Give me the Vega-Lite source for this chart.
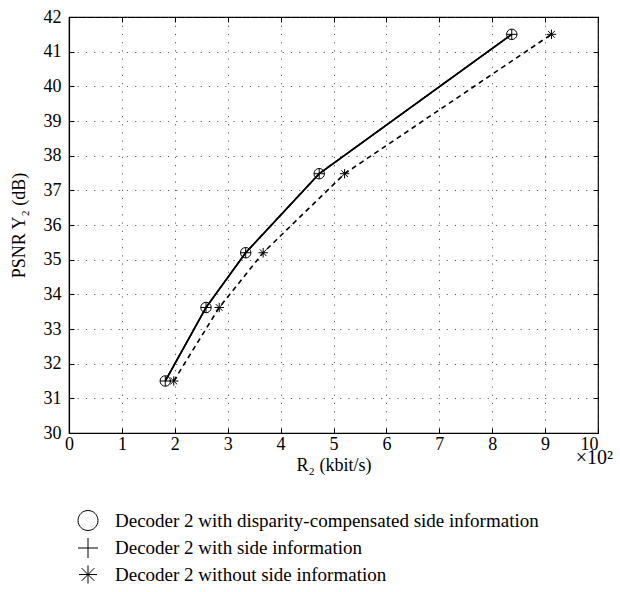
{
  "$schema": "https://vega.github.io/schema/vega-lite/v6.json",
  "width": 529,
  "height": 416,
  "autosize": {"type": "none"},
  "padding": {"left": 69, "top": 17, "right": 22, "bottom": 159},
  "background": "white",
  "config": {
    "font": "Liberation Serif, Times New Roman, serif",
    "view": {"stroke": "black", "strokeWidth": 1.2},
    "axis": {
      "domainColor": "black",
      "domainWidth": 1.2,
      "tickColor": "black",
      "tickSize": -5,
      "labelColor": "black",
      "labelFontSize": 18,
      "labelFont": "Liberation Serif, Times New Roman, serif",
      "titleColor": "black",
      "titleFont": "Liberation Serif, Times New Roman, serif",
      "titleFontSize": 18,
      "titleFontWeight": "normal",
      "gridColor": "#333",
      "gridDash": [1.2, 7],
      "gridWidth": 0.8,
      "gridOpacity": 1
    },
    "legend": {
      "labelFont": "Liberation Serif, Times New Roman, serif",
      "labelFontSize": 19,
      "labelColor": "black",
      "labelLimit": 1000
    }
  },
  "data": {
    "values": [
      {"series": "Decoder 2 with disparity-compensated side information", "r": 1.82, "psnr": 31.5},
      {"series": "Decoder 2 with disparity-compensated side information", "r": 2.59, "psnr": 33.62},
      {"series": "Decoder 2 with disparity-compensated side information", "r": 3.34, "psnr": 35.2},
      {"series": "Decoder 2 with disparity-compensated side information", "r": 4.73, "psnr": 37.48},
      {"series": "Decoder 2 with disparity-compensated side information", "r": 8.37, "psnr": 41.5},
      {"series": "Decoder 2 with side information", "r": 1.82, "psnr": 31.5},
      {"series": "Decoder 2 with side information", "r": 2.59, "psnr": 33.62},
      {"series": "Decoder 2 with side information", "r": 3.34, "psnr": 35.2},
      {"series": "Decoder 2 with side information", "r": 4.73, "psnr": 37.48},
      {"series": "Decoder 2 with side information", "r": 8.37, "psnr": 41.5},
      {"series": "Decoder 2 without side information", "r": 1.98, "psnr": 31.5},
      {"series": "Decoder 2 without side information", "r": 2.84, "psnr": 33.62},
      {"series": "Decoder 2 without side information", "r": 3.67, "psnr": 35.2},
      {"series": "Decoder 2 without side information", "r": 5.21, "psnr": 37.48},
      {"series": "Decoder 2 without side information", "r": 9.12, "psnr": 41.5}
    ]
  },
  "resolve": {"axis": {"x": "independent", "y": "independent"}},
  "layer": [
    {
      "mark": {"type": "line", "color": "black"},
      "encoding": {
        "x": {
          "field": "r", "type": "quantitative",
          "scale": {"domain": [0, 10], "nice": false, "zero": false},
          "axis": {
            "values": [0,1,2,3,4,5,6,7,8,9,10], "grid": true, "title": "R₂ (kbit/s)",
            "labelPadding": 7, "titlePadding": 3, "labelFlush": false,
            "labelAlign": {"condition": {"test": "datum.value === 10", "value": "right"}, "value": "center"}
          }
        },
        "y": {
          "field": "psnr", "type": "quantitative",
          "scale": {"domain": [30, 42], "nice": false, "zero": false},
          "axis": {"values": [30,31,32,33,34,35,36,37,38,39,40,41,42], "grid": true, "title": "PSNR Y₂ (dB)", "labelPadding": 13, "titlePadding": 15, "labelFlush": false}
        },
        "detail": {"field": "series"},
        "strokeDash": {
          "field": "series", "type": "nominal",
          "scale": {"range": [[1, 0], [1, 0], [5, 4]]},
          "legend": null
        },
        "strokeWidth": {
          "field": "series", "type": "nominal",
          "scale": {"range": [1.6, 1.6, 1]},
          "legend": null
        }
      }
    },
    {
      "mark": {"type": "point", "filled": false, "color": "black", "size": 110, "strokeWidth": 1, "opacity": 1},
      "encoding": {
        "x": {
          "field": "r", "type": "quantitative",
          "axis": {"orient": "top", "values": [0,1,2,3,4,5,6,7,8,9,10], "labels": false, "grid": false, "domain": false, "title": null}
        },
        "y": {
          "field": "psnr", "type": "quantitative",
          "axis": {"orient": "right", "values": [30,31,32,33,34,35,36,37,38,39,40,41,42], "labels": false, "grid": false, "domain": false, "title": null}
        },
        "shape": {
          "field": "series", "type": "nominal",
          "scale": {
            "domain": ["Decoder 2 with disparity-compensated side information", "Decoder 2 with side information", "Decoder 2 without side information"],
            "range": ["M-1,0A1,1 0 1,1 1,0A1,1 0 1,1 -1,0", "M-1,0H1M0,-1V1", "M0,-0.9V0.9M-0.9,0H0.9M-0.64,-0.64L0.64,0.64M-0.64,0.64L0.64,-0.64"]
          },
          "legend": {
            "title": null,
            "orient": "none",
            "legendX": 0,
            "legendY": 493,
            "direction": "vertical",
            "padding": 0,
            "symbolSize": 400,
            "symbolStrokeWidth": 1,
            "symbolStrokeColor": "black",
            "symbolOffset": 8.5,
            "labelOffset": 16.5,
            "rowPadding": 2.5,
            "encode": {
              "symbols": {
                "shape": {"value": {"expr": "datum.value === 'Decoder 2 with disparity-compensated side information' ? 'M-1.9,0H-0.45M0.45,0H1.9M-0.45,0A0.45,0.45 0 1,1 0.45,0A0.45,0.45 0 1,1 -0.45,0' : datum.value === 'Decoder 2 with side information' ? 'M-1.9,0H1.9M0,-0.45V0.45' : 'M-1.9,0H-1.25M1.25,0H1.9M0,-0.42V0.42M-0.42,0H0.42M-0.3,-0.3L0.3,0.3M-0.3,0.3L0.3,-0.3'"}}
              }
            }
          }
        }
      }
    },
    {
      "data": {"values": [{"r": 10, "psnr": 30, "label": "×10²"}]},
      "mark": {"type": "text", "dy": 25, "dx": 15, "align": "right", "baseline": "middle", "fontSize": 20, "color": "black"},
      "encoding": {
        "x": {"field": "r", "type": "quantitative", "axis": null},
        "y": {"field": "psnr", "type": "quantitative", "axis": null},
        "text": {"field": "label"}
      }
    }
  ]
}
